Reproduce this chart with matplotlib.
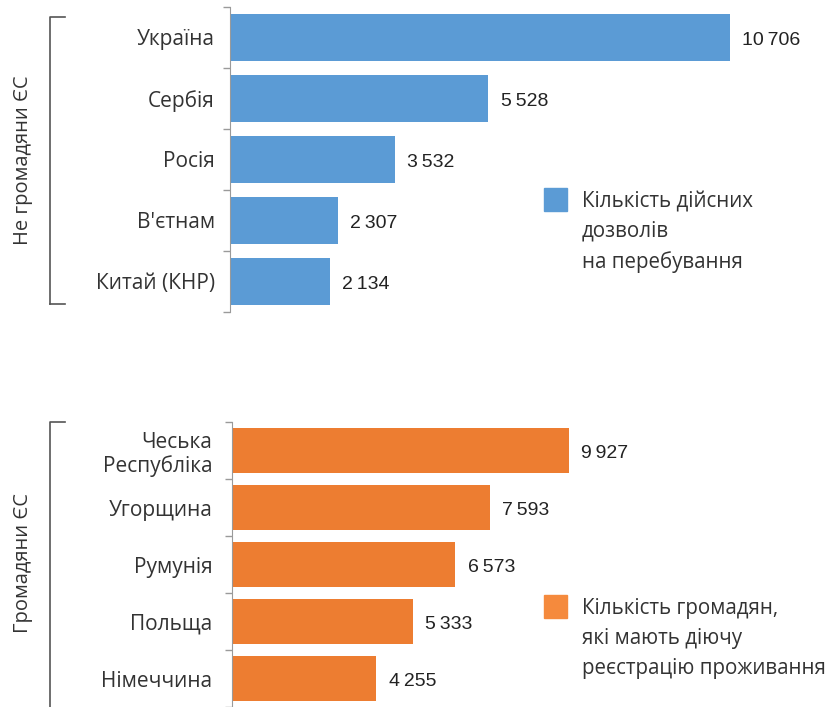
import matplotlib.pyplot as plt
from matplotlib.patches import Rectangle

plt.rcParams['font.family'] = ['Open Sans', 'DejaVu Sans']

# non-EU citizens: valid residence permits
non_eu_countries = ["Україна", "Сербія", "Росія", "В'єтнам", "Китай (КНР)"]
non_eu_values = [10706, 5528, 3532, 2307, 2134]

# EU citizens: valid residence registration
eu_countries = ["Чеська\nРеспубліка", "Угорщина", "Румунія", "Польща", "Німеччина"]
eu_values = [9927, 7593, 6573, 5333, 4255]

blue = '#5B9BD5'
orange = '#ED7D31'
text_col = '#333333'
axis_col = '#9a9a9a'


def fmt(v):
    return f"{v:,}".replace(",", "\u2009")


def draw(ax, names, values, color, xmax, pad):
    y = range(len(names))
    ax.barh(y, values, height=0.78, color=color)
    ax.set_ylim(len(names) - 0.5, -0.5)
    ax.set_xlim(0, xmax)
    ax.set_yticks(list(y))
    ax.set_yticklabels(names, fontsize=15, color=text_col, linespacing=1.15)
    ax.tick_params(axis='y', which='major', length=0, pad=pad)
    ax.set_yticks([i - 0.5 for i in range(len(names) + 1)], minor=True)
    ax.tick_params(axis='y', which='minor', length=5, color=axis_col, width=1)
    ax.set_xticks([])
    for s in ['top', 'right', 'bottom']:
        ax.spines[s].set_visible(False)
    ax.spines['left'].set_color(axis_col)
    for i, v in enumerate(values):
        ax.annotate(fmt(v), (v, i), xytext=(9, -2), textcoords='offset points',
                    va='center', ha='left', fontsize=14, color='#222222',
                    family=['Liberation Sans', 'DejaVu Sans'])


W, H = 827, 707
fig = plt.figure(figsize=(W / 100, H / 100), dpi=100)

ax1 = fig.add_axes([0.2781, 0.5587, 0.70, 0.4314])
draw(ax1, non_eu_countries, non_eu_values, blue, 12398, 11)

ax2 = fig.add_axes([0.2805, 0.0, 0.70, 0.4031])
draw(ax2, eu_countries, eu_values, orange, 17055, 14)


# group brackets
def bracket(y0, y1):
    x0, x1 = 50 / W, 65 / W
    fig.add_artist(plt.Line2D([x1, x0, x0], [y0, y0, y1], color='#555555', lw=1.2,
                              transform=fig.transFigure))
    if y1 > 0:
        fig.add_artist(plt.Line2D([x0, x1], [y1, y1], color='#555555', lw=1.2,
                                  transform=fig.transFigure))


bracket(1 - 17 / H, 1 - 304 / H)
bracket(1 - 422 / H, -0.01)

fig.text(23 / W, 1 - 160 / H, "Не громадяни ЄС", rotation=90, ha='center',
         va='center', fontsize=14.5, color=text_col)
fig.text(23 / W, 1 - 563 / H, "Громадяни ЄС", rotation=90, ha='center',
         va='center', fontsize=14.5, color=text_col)


# legend keys: square aligned with the first text line
def legend_key(color, label, top_px):
    fig.add_artist(Rectangle((544 / W, 1 - (top_px + 23) / H), 23 / W, 23 / H,
                             transform=fig.transFigure, color=color))
    fig.text(582 / W, 1 - (top_px + 3) / H, label, ha='left', va='top',
             fontsize=14.8, color=text_col, linespacing=1.55)


legend_key(blue, "Кількість дійсних\nдозволів\nна перебування", 188)
legend_key('#F58A3D', "Кількість громадян,\nякі мають діючу\nреєстрацію проживання", 595)

fig.savefig('out.png', dpi=100)
